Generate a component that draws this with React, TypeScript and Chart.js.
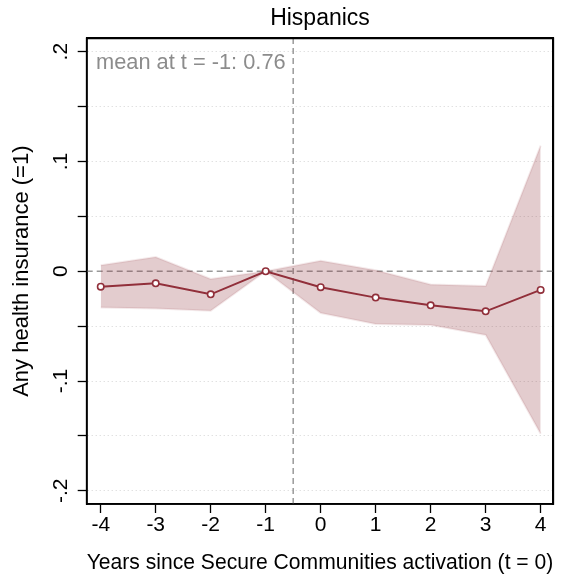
import { useEffect, useRef } from "react";
import { Chart, registerables } from "chart.js";

Chart.register(...registerables);

const FONT = "'Liberation Sans', Arial, Helvetica, sans-serif";

const years = [-4, -3, -2, -1, 0, 1, 2, 3, 4];
const coef = [-0.014, -0.011, -0.021, 0, -0.0145, -0.024, -0.031, -0.0365, -0.017];
const ciUpper = [0.0055, 0.013, -0.007, 0, 0.0095, 0.001, -0.012, -0.0135, 0.1145];
const ciLower = [-0.033, -0.034, -0.036, 0, -0.038, -0.048, -0.049, -0.058, -0.148];

const xTicks = [-4, -3, -2, -1, 0, 1, 2, 3, 4];
const yTicks = [-0.2, -0.15, -0.1, -0.05, 0, 0.05, 0.1, 0.15, 0.2];
const yTickLabels = ["-.2", "", "-.1", "", "0", "", ".1", "", ".2"];

const xRange = [-4.255, 4.23];
const yRange = [-0.212, 0.2122];
const eventLineX = -0.5;
const refLineY = 0;

const titleText = "Hispanics";
const xTitle = "Years since Secure Communities activation (t = 0)";
const yTitle = "Any health insurance (=1)";
const noteText = "mean at t = -1: 0.76";

const LINE = "#912f3a";
const BAND = "rgba(144,53,59,0.25)";
const BAND_EDGE = "rgba(144,53,59,0.10)";
const REF = "#999999";
const FRAME = { display: true, color: "#000000", width: 1.7 };

const decor = {
  id: "decor",
  afterDraw(chart: any) {
    const { ctx, chartArea: a, scales } = chart;
    const y = scales.y;
    ctx.save();
    ctx.setLineDash([]);
    ctx.globalAlpha = 1;
    ctx.strokeStyle = "#000000";
    ctx.lineWidth = 1.7;
    ctx.beginPath();
    ctx.moveTo(a.left, a.top);
    ctx.lineTo(a.right, a.top);
    ctx.lineTo(a.right, a.bottom);
    ctx.lineTo(a.left, a.bottom);
    ctx.closePath();
    ctx.stroke();
    ctx.font = `21px ${FONT}`;
    ctx.fillStyle = "#000";
    ctx.textAlign = "center";
    ctx.textBaseline = "alphabetic";
    yTicks.forEach((v, i) => {
      const lbl = yTickLabels[i];
      if (!lbl) return;
      const py = y.getPixelForValue(v);
      ctx.save();
      ctx.translate(a.left - 19.7, py);
      ctx.rotate(-Math.PI / 2);
      ctx.fillText(lbl, 0, 0);
      ctx.restore();
    });
    ctx.font = `21.8px ${FONT}`;
    ctx.fillStyle = "#8c8c8c";
    ctx.textAlign = "left";
    ctx.fillText(noteText, a.left + 9.3, a.top + 30.7);
    ctx.restore();
  },
};

export default function App() {
  const ref = useRef<HTMLCanvasElement | null>(null);

  useEffect(() => {
    if (!ref.current) return;
    Chart.defaults.font.family = FONT;
    const pts = (ys: number[]) => years.map((x, i) => ({ x, y: ys[i] }));
    const chart = new Chart(ref.current, {
      type: "line",
      data: {
        datasets: [
          {
            data: pts(coef),
            borderColor: LINE,
            borderWidth: 2,
            pointRadius: 3.2,
            pointBackgroundColor: "#ffffff",
            pointBorderColor: LINE,
            pointBorderWidth: 1.6,
            fill: false,
            order: 0,
          } as any,
          {
            data: pts(ciUpper),
            borderColor: BAND_EDGE,
            borderWidth: 2,
            pointRadius: 0,
            fill: false,
            order: 1,
          },
          {
            data: pts(ciLower),
            borderColor: BAND_EDGE,
            borderWidth: 2,
            pointRadius: 0,
            backgroundColor: BAND,
            fill: "-1",
            order: 1,
          },
          {
            data: [
              { x: xRange[0], y: refLineY },
              { x: xRange[1], y: refLineY },
            ],
            borderColor: REF,
            borderWidth: 1.5,
            borderDash: [6, 4],
            pointRadius: 0,
            fill: false,
            order: 5,
          },
          {
            data: [
              { x: eventLineX, y: yRange[0] },
              { x: eventLineX, y: yRange[1] },
            ],
            borderColor: REF,
            borderWidth: 1.5,
            borderDash: [6, 4],
            pointRadius: 0,
            fill: false,
            order: 5,
          },
        ],
      },
      options: {
        animation: false,
        responsive: true,
        maintainAspectRatio: false,
        layout: { padding: { left: 0, right: 15.7, top: 0, bottom: 0 } },
        plugins: {
          legend: { display: false },
          tooltip: { enabled: false },
          title: {
            display: true,
            text: titleText,
            color: "#000",
            fullSize: false,
            font: { size: 23, weight: "normal", family: FONT },
            padding: { top: 4.9, bottom: 5.8 },
          },
        },
        scales: {
          x: {
            type: "linear",
            min: xRange[0],
            max: xRange[1],
            afterBuildTicks: (s: any) => {
              s.ticks = xTicks.map((v) => ({ value: v }));
            },
            afterFit: (s: any) => {
              s.height = 78;
            },
            ticks: {
              color: "#000",
              font: { size: 21, family: FONT },
              padding: 0,
              maxRotation: 0,
              autoSkip: false,
              callback: (v: any) => String(v),
            },
            grid: {
              drawOnChartArea: false,
              drawTicks: true,
              tickLength: 9,
              tickColor: "#000",
              tickWidth: 1.3,
            },
            border: FRAME,
            title: {
              display: true,
              text: xTitle,
              color: "#000",
              font: { size: 22, family: FONT },
              padding: { top: 0, bottom: 5.6 },
            },
          },
          x2: {
            type: "linear",
            position: "top",
            min: xRange[0],
            max: xRange[1],
            afterFit: (s: any) => {
              s.height = 0;
            },
            ticks: { display: false },
            grid: { display: false, drawTicks: false, drawOnChartArea: false },
            border: FRAME,
          },
          y: {
            type: "linear",
            min: yRange[0],
            max: yRange[1],
            afterBuildTicks: (s: any) => {
              s.ticks = yTicks.map((v) => ({ value: v }));
            },
            afterFit: (s: any) => {
              s.width = 86.7;
            },
            ticks: {
              color: "#000",
              font: { size: 21, family: FONT },
              autoSkip: false,
              callback: () => "",
            },
            grid: {
              drawOnChartArea: true,
              drawTicks: true,
              tickLength: 9,
              tickColor: "#000",
              tickWidth: 1.3,
              lineWidth: 1,
              color: (c: any) =>
                c.tick && Math.abs(c.tick.value) < 1e-9 ? "rgba(0,0,0,0)" : "#d4d4d4",
              borderDash: [1, 3],
            } as any,
            border: { ...FRAME, dash: [1, 3] },
            title: {
              display: true,
              text: yTitle,
              color: "#000",
              font: { size: 22, family: FONT },
              padding: { top: 8.8, bottom: 0 },
            },
          },
          y2: {
            type: "linear",
            position: "right",
            min: yRange[0],
            max: yRange[1],
            afterFit: (s: any) => {
              s.width = 0;
            },
            ticks: { display: false },
            grid: { display: false, drawTicks: false, drawOnChartArea: false },
            border: FRAME,
          },
        },
      },
      plugins: [decor],
    });
    return () => chart.destroy();
  }, []);

  return (
    <div
      style={{
        position: "fixed",
        left: 0,
        top: 0,
        width: 569,
        height: 582,
        background: "#ffffff",
      }}
    >
      <canvas ref={ref} />
    </div>
  );
}
